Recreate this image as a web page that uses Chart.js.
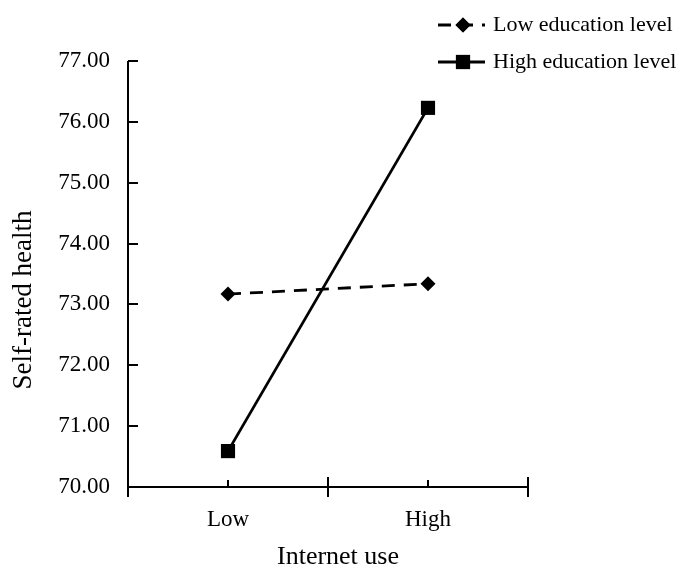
<!DOCTYPE html>
<html>
<head>
<meta charset="utf-8">
<script src="https://cdn.jsdelivr.net/npm/chart.js@4"></script>
<style>
    html, body { margin: 0; background: #fff; }
    #wrap { width: 681px; height: 567px; }
</style>
</head>
<body>
<div id="wrap"><canvas id="chart"></canvas></div>
<script>
const categories = ['Low', 'High'];
const lowEducation = [73.17, 73.34];
const highEducation = [70.59, 76.23];
const yTicks = [70, 71, 72, 73, 74, 75, 76, 77];
const seriesNames = ['Low education level', 'High education level'];
const xTitle = 'Internet use';
const yTitle = 'Self-rated health';

const FONT = '"Liberation Serif", "Times New Roman", serif';

// axes, tick marks, titles and legend drawn in the style of the original figure
const figurePlugin = {
    id: 'figure',
    afterDraw(chart) {
        const ctx = chart.ctx;
        const x = chart.scales.x;
        const y = chart.scales.y;
        const bottom = y.getPixelForValue(yTicks[0]);
        const top = y.getPixelForValue(yTicks[yTicks.length - 1]);
        ctx.save();
        ctx.strokeStyle = '#000';
        ctx.lineWidth = 2;
        ctx.lineCap = 'butt';

        // y axis + inward ticks
        ctx.beginPath();
        ctx.moveTo(x.left, top);
        ctx.lineTo(x.left, bottom + 10);
        yTicks.forEach(v => {
            const py = Math.round(y.getPixelForValue(v));
            ctx.moveTo(x.left, py);
            ctx.lineTo(x.left + 10, py);
        });
        // x axis
        ctx.moveTo(x.left, bottom);
        ctx.lineTo(x.right, bottom);
        const step = x.getPixelForValue(1) - x.getPixelForValue(0);
        categories.forEach((c, i) => {
            const px = x.getPixelForValue(i);
            ctx.moveTo(px, bottom - 7);
            ctx.lineTo(px, bottom);
            ctx.moveTo(px + step / 2, bottom - 10);
            ctx.lineTo(px + step / 2, bottom + 10);
        });
        ctx.stroke();

        // axis titles
        ctx.fillStyle = '#000';
        ctx.font = '26px ' + FONT;
        ctx.textAlign = 'center';
        ctx.textBaseline = 'middle';
        ctx.fillText(xTitle, (x.left + x.right) / 2 + 10, 557);
        ctx.save();
        ctx.translate(24, 300);
        ctx.rotate(-Math.PI / 2);
        ctx.font = '27px ' + FONT;
        ctx.fillText(yTitle, 0, 0);
        ctx.restore();

        // legend
        ctx.font = '22px ' + FONT;
        ctx.textAlign = 'left';
        const rows = [25, 62];
        chart.data.datasets.forEach((ds, i) => {
            const ly = rows[i];
            ctx.save();
            ctx.lineWidth = ds.borderWidth;
            ctx.setLineDash(ds.borderDash || []);
            ctx.beginPath();
            ctx.moveTo(438, ly);
            ctx.lineTo(485, ly);
            ctx.stroke();
            ctx.restore();
            Chart.helpers.drawPoint(ctx, {
                pointStyle: ds.pointStyle,
                radius: ds.pointRadius,
                borderWidth: 0,
                rotation: 0
            }, 463, ly);
            ctx.fill();
            ctx.fillText(ds.label, 493, ly);
        });
        ctx.restore();
    }
};

new Chart(document.getElementById('chart'), {
    type: 'line',
    data: {
        labels: categories,
        datasets: [
            {
                label: seriesNames[0],
                data: lowEducation,
                borderColor: '#000',
                backgroundColor: '#000',
                borderWidth: 2.8,
                borderDash: [13, 9],
                pointStyle: 'rectRot',
                pointRadius: 7.5,
                pointBorderWidth: 0,
                pointHoverRadius: 7.5
            },
            {
                label: seriesNames[1],
                data: highEducation,
                borderColor: '#000',
                backgroundColor: '#000',
                borderWidth: 2.8,
                pointStyle: 'rect',
                pointRadius: 10,
                pointBorderWidth: 0,
                pointHoverRadius: 10
            }
        ]
    },
    options: {
        responsive: true,
        maintainAspectRatio: false,
        animation: false,
        layout: { padding: { top: 61, right: 153, left: 0, bottom: 0 } },
        plugins: {
            legend: { display: false },
            tooltip: { enabled: false }
        },
        scales: {
            x: {
                type: 'category',
                offset: true,
                grid: { display: false, drawTicks: false },
                border: { display: false },
                ticks: { color: '#000', font: { family: FONT, size: 23 }, padding: 19 },
                afterFit: (scale) => { scale.height = 80; }
            },
            y: {
                min: 70,
                max: 77,
                grid: { display: false, drawTicks: false },
                border: { display: false },
                ticks: {
                    color: '#000',
                    font: { family: FONT, size: 23 },
                    padding: 18,
                    callback: (v) => Number(v).toFixed(2)
                },
                afterBuildTicks: (scale) => { scale.ticks = yTicks.map(v => ({ value: v })); },
                afterFit: (scale) => { scale.width = 128; }
            }
        }
    },
    plugins: [figurePlugin]
});
</script>
</body>
</html>
